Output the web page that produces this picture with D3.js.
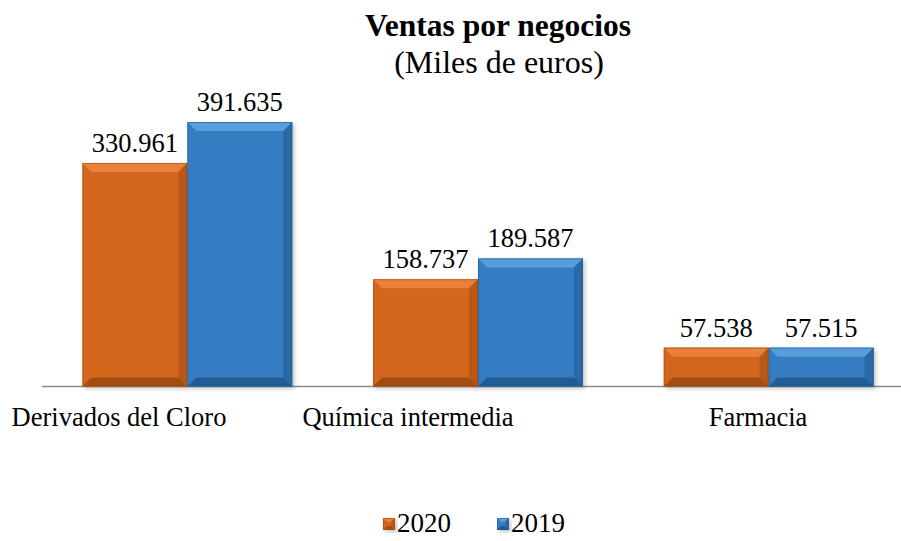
<!DOCTYPE html>
<html><head><meta charset="utf-8">
<script src="https://cdn.jsdelivr.net/npm/d3@7"></script>
<style>body{margin:0;background:#fff}svg{display:block}</style>
</head><body><svg id="c" width="901" height="541" font-family="'Liberation Serif', 'Times New Roman', Times, 'DejaVu Serif', serif"></svg>
<script>
const categories = ["Derivados del Cloro", "Química intermedia", "Farmacia"];
const seriesNames = ["2020", "2019"];
const values2020 = [330961, 158737, 57538];
const values2019 = [391635, 189587, 57515];
const valueLabels2020 = ["330.961", "158.737", "57.538"];
const valueLabels2019 = ["391.635", "189.587", "57.515"];

const colors = {"2020": {main:"#D3661A", light:"#E9813A", dark:"#A34C10", side:"#B85814"},
                "2019": {main:"#367DC2", light:"#5A9DDB", dark:"#235C95", side:"#2B68A5"}};
const svg = d3.select("#c");
const baseY = 386.5;
const y = d3.scaleLinear().domain([0, 391635]).range([baseY, 122]);
const x0 = d3.scaleBand().domain(categories).range([42, 914]);
const x1 = d3.scaleBand().domain(seriesNames).range([0, x0.bandwidth()]).paddingOuter(0.385);

const defs = svg.append("defs");
const f = defs.append("filter").attr("id","sh").attr("x","-10%").attr("y","-10%").attr("width","130%").attr("height","130%");
f.append("feDropShadow").attr("dx",2).attr("dy",2).attr("stdDeviation",2).attr("flood-color","#000").attr("flood-opacity",0.25);

function bevelBar(g, x, yTop, w, h, c, b) {
  const gg = g.append("g");
  gg.append("rect").attr("x",x).attr("y",yTop).attr("width",w).attr("height",h).attr("fill",c.main).attr("filter","url(#sh)");
  const bb = Math.min(b, h/2, w/2);
  gg.append("path").attr("d",`M${x},${yTop}L${x+w},${yTop}L${x+w-bb},${yTop+bb}L${x+bb},${yTop+bb}Z`).attr("fill",c.light);
  gg.append("path").attr("d",`M${x+w},${yTop}L${x+w},${yTop+h}L${x+w-bb},${yTop+h-bb}L${x+w-bb},${yTop+bb}Z`).attr("fill",c.side);
  gg.append("path").attr("d",`M${x},${yTop+h}L${x+w},${yTop+h}L${x+w-bb},${yTop+h-bb}L${x+bb},${yTop+h-bb}Z`).attr("fill",c.dark);
  gg.append("rect").attr("x",x+0.5).attr("y",yTop+0.5).attr("width",w-1).attr("height",h-1).attr("fill","none").attr("stroke",c.dark).attr("stroke-opacity",0.6);
}

svg.append("line").attr("x1",42).attr("x2",901).attr("y1",baseY).attr("y2",baseY).attr("stroke","#8c8c8c").attr("stroke-width",1.5);

const data = categories.map((c,i)=>({cat:c, vals:[
  {s:"2020", v:values2020[i], lab:valueLabels2020[i]},
  {s:"2019", v:values2019[i], lab:valueLabels2019[i]}]}));

data.forEach(d=>{
  const g = svg.append("g").attr("transform",`translate(${x0(d.cat)},0)`);
  d.vals.forEach(v=>{
    const bx = x1(v.s), bw = x1.bandwidth();
    bevelBar(g, bx, y(v.v), bw, baseY - y(v.v), colors[v.s], 9);
    g.append("text").attr("x", bx + bw/2).attr("y", y(v.v) - 11).attr("text-anchor","middle")
      .attr("font-size", 26.5).text(v.lab);
  });
});

const catLabelX = [119, 408, 758];
categories.forEach((c,i)=>{
  svg.append("text").attr("x",catLabelX[i]).attr("y",426).attr("text-anchor","middle").attr("font-size",26.5).text(c);
});

svg.append("text").attr("x",498).attr("y",36).attr("text-anchor","middle").attr("font-size",31.5).attr("font-weight","bold").text("Ventas por negocios");
svg.append("text").attr("x",499).attr("y",73).attr("text-anchor","middle").attr("font-size",32).text("(Miles de euros)");

const legX = [383, 497];
seriesNames.forEach((s,i)=>{
  const g = svg.append("g");
  bevelBar(g, legX[i], 518, 12, 12, colors[s], 4);
  g.append("text").attr("x",legX[i]+14).attr("y",532).attr("font-size",27).text(s);
});
</script></body></html>
